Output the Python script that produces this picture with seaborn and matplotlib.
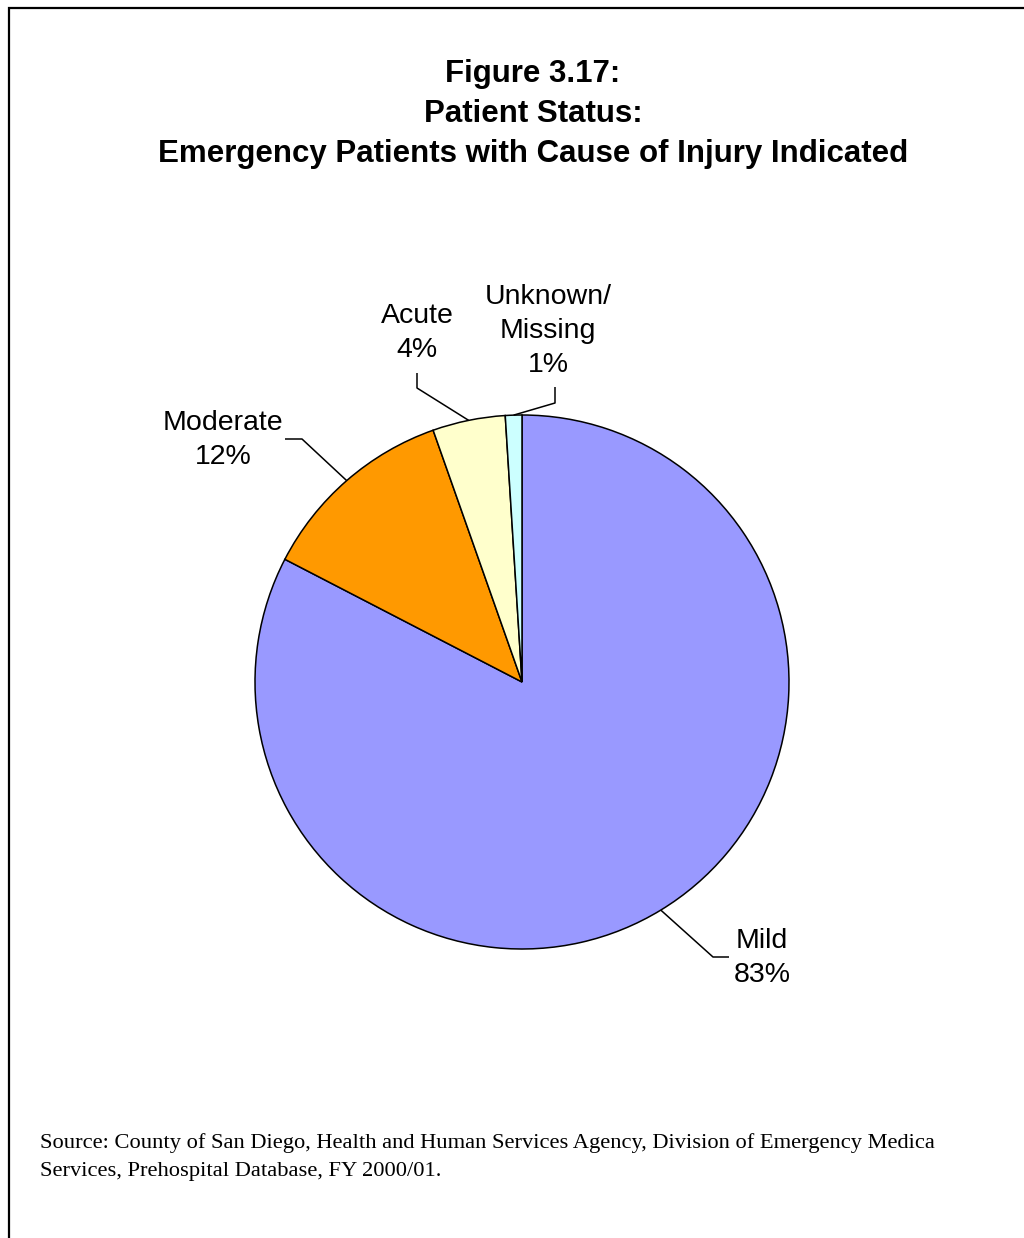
import numpy as np
import seaborn as sns
import matplotlib.pyplot as plt
from matplotlib.patches import Rectangle

# --------------------------------------------------
# DATA
# --------------------------------------------------

categories = ["Mild", "Moderate", "Acute", "Unknown/\nMissing"]
shares = [82.6, 12.0, 4.4, 1.0]
colors = ["#9999FF", "#FF9900", "#FFFFCC", "#CCFFFF"]

title = ("Figure 3.17:\nPatient Status:\n"
         "Emergency Patients with Cause of Injury Indicated")
source = ("Source: County of San Diego, Health and Human Services Agency, "
          "Division of Emergency Medica\n"
          "Services, Prehospital Database, FY 2000/01.")

# --------------------------------------------------
# LAYOUT (page pixels, y measured from the top)
# --------------------------------------------------

W, H = 1024, 1238
center_px = (522, 682)
radius_px = 267

# elbow of leader, end of leader, label centre
elbows = [(713, 957), (302, 439), (417, 388), (555, 403)]
ends = [(729, 957), (285, 439), (417, 373), (555, 387)]
label_pos = [(762, 958), (223, 440), (417, 333), (548, 331)]

sns.set_style("white")
plt.rcParams["font.family"] = ["Liberation Sans", "DejaVu Sans"]
plt.rcParams["text.color"] = "black"

fig = plt.figure(figsize=(W / 100, H / 100), dpi=100)
ax = fig.add_axes([0, 0, 1, 1])

cx, cy = center_px[0], H - center_px[1]
wedges, _ = ax.pie(
    shares,
    colors=colors,
    startangle=90,
    counterclock=False,
    center=(cx, cy),
    radius=radius_px,
    wedgeprops=dict(edgecolor="black", linewidth=1.1),
)
ax.set_xlim(0, W)
ax.set_ylim(0, H)
ax.set_aspect("equal")
ax.axis("off")

# leader lines + labels
for w, name, val, el, en, lp in zip(wedges, categories, shares, elbows, ends, label_pos):
    mid = np.deg2rad((w.theta1 + w.theta2) / 2)
    sx = cx + radius_px * np.cos(mid)
    sy = cy + radius_px * np.sin(mid)
    ax.plot([sx, el[0], en[0]], [sy, H - el[1], H - en[1]],
            color="black", lw=1.1, solid_capstyle="butt")
    ax.text(lp[0], H - lp[1], f"{name}\n{round(val):.0f}%",
            ha="center", va="center", fontsize=20.5, linespacing=1.39,
            color="black")

# border
ax.add_patch(Rectangle((8.5, -20), W + 40, H - 7.5 + 20, fill=False,
                       edgecolor="black", lw=1.6, clip_on=False))

fig.text(533 / W, 1 - 114 / H, title, ha="center", va="center",
         fontsize=22.5, fontweight="bold", linespacing=1.42, color="black")
fig.text(40 / W, 1 - 1157 / H, source, ha="left", va="center",
         fontsize=16.2, family=["Liberation Serif", "DejaVu Serif"],
         linespacing=1.58, color="black")

fig.savefig("out.png", dpi=100)
